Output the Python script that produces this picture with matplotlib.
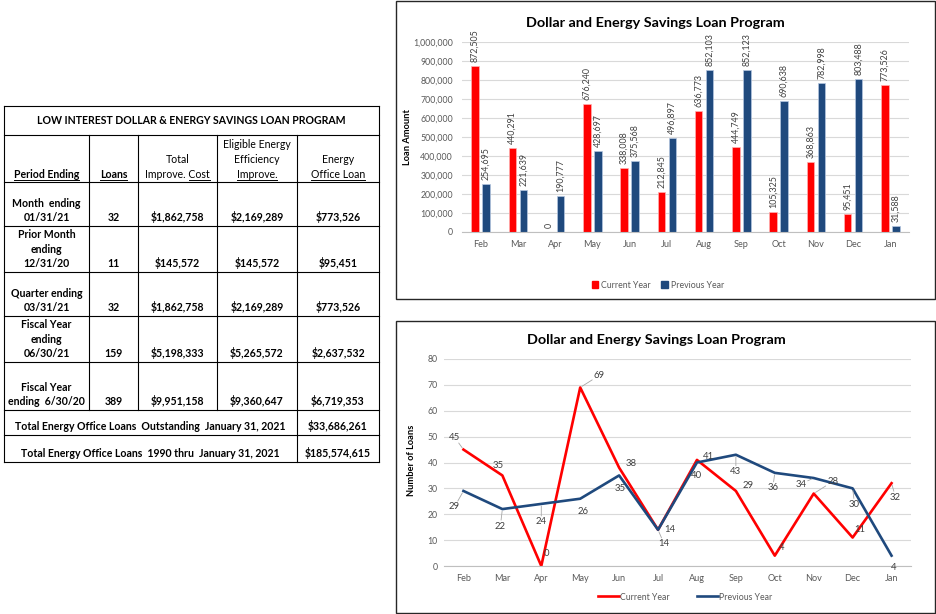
import numpy as np
import matplotlib.pyplot as plt
from matplotlib.patches import Rectangle

plt.rcParams['font.family'] = ['Lato', 'DejaVu Sans']

# chart data
months = ['Feb', 'Mar', 'Apr', 'May', 'Jun', 'Jul', 'Aug', 'Sep', 'Oct', 'Nov', 'Dec', 'Jan']
amount_current = [872505, 440291, 0, 676240, 338008, 212845, 636773, 444749, 105325, 368863, 95451, 773526]
amount_previous = [254695, 221639, 190777, 428697, 375568, 496897, 852103, 852123, 690638, 782998, 803488, 31588]
loans_current = [45, 35, 0, 69, 38, 14, 41, 29, 4, 28, 11, 32]
loans_previous = [29, 22, 24, 26, 35, 14, 40, 43, 36, 34, 30, 4]

# table data
table_title = 'LOW INTEREST DOLLAR & ENERGY SAVINGS LOAN PROGRAM'
period_labels = [['Month  ending', '01/31/21'],
                 ['Prior Month', 'ending', '12/31/20'],
                 ['Quarter ending', '03/31/21'],
                 ['Fiscal Year', 'ending', '06/30/21'],
                 ['Fiscal Year', 'ending  6/30/20']]
loan_counts = ['32', '11', '32', '159', '389']
total_cost = ['$1,862,758', '$145,572', '$1,862,758', '$5,198,333', '$9,951,158']
eligible_cost = ['$2,169,289', '$145,572', '$2,169,289', '$5,265,572', '$9,360,647']
office_loan = ['$773,526', '$95,451', '$773,526', '$2,637,532', '$6,719,353']
total_labels = ['Total Energy Office Loans  Outstanding  January 31, 2021',
                'Total Energy Office Loans  1990 thru  January 31, 2021']
total_values = ['$33,686,261', '$185,574,615']

RED = '#ff0000'
BLUE = '#1f497d'
GRAY = '#595959'

W, H = 936, 614
fig = plt.figure(figsize=(W / 100, H / 100), dpi=100)


def box(x0, y0, x1, y1):
    # pixel box (top-left origin) -> figure fraction rect
    return [x0 / W, 1 - y1 / H, (x1 - x0) / W, (y1 - y0) / H]


# full-figure canvas in pixel coordinates for the table and frames
canvas = fig.add_axes([0, 0, 1, 1])
canvas.set_xlim(0, W)
canvas.set_ylim(H, 0)
canvas.axis('off')

# ---------------- table ----------------
row_y = [106, 135, 182, 226, 272, 316, 362, 410, 435, 462]
col_x = [4, 89, 138, 217, 297, 379]
col_c = [(col_x[i] + col_x[i + 1]) / 2 for i in range(5)]
lc = dict(color='black', lw=0.8)
for y in row_y:
    canvas.plot([col_x[0], col_x[-1]], [y, y], **lc)
canvas.plot([col_x[0]] * 2, [row_y[0], row_y[-1]], **lc)
canvas.plot([col_x[-1]] * 2, [row_y[0], row_y[-1]], **lc)
for x in col_x[1:4]:
    canvas.plot([x, x], [row_y[1], row_y[7]], **lc)
canvas.plot([col_x[4]] * 2, [row_y[1], row_y[-1]], **lc)

FS = 7.6
underlines = []


def cell(x, yc, s, bold=True, ul=None):
    t = canvas.text(x, yc + 3.8, s, ha='center', va='baseline', fontsize=FS,
                    fontweight='bold' if bold else 'normal', color='black')
    if ul is not None:
        underlines.append((t, ul, yc + 3.8))
    return t


cell((col_x[0] + col_x[-1]) / 2, 120, table_title)

hb = row_y[2] - 8
cell(col_c[0], hb, 'Period Ending', ul='all')
cell(col_c[1], hb, 'Loans', ul='all')
cell(col_c[2], hb - 15, 'Total', bold=False)
cell(col_c[2], hb, 'Improve. Cost', bold=False, ul='Cost')
cell(col_c[3], hb - 30, 'Eligible Energy', bold=False)
cell(col_c[3], hb - 15, 'Efficiency', bold=False)
cell(col_c[3], hb, 'Improve.', bold=False, ul='all')
cell(col_c[4], hb - 15, 'Energy', bold=False)
cell(col_c[4], hb, 'Office Loan', bold=False, ul='all')

for i in range(5):
    yc = row_y[i + 3] - 8.5
    lines = period_labels[i]
    for k, s in enumerate(lines):
        cell(col_c[0], yc - 14.5 * (len(lines) - 1 - k), s)
    cell(col_c[1], yc, loan_counts[i])
    cell(col_c[2], yc, total_cost[i])
    cell(col_c[3], yc, eligible_cost[i])
    cell(col_c[4], yc, office_loan[i])

for i in range(2):
    yc = row_y[i + 8] - 8.5
    cell((col_x[0] + col_x[4]) / 2, yc, total_labels[i])
    cell(col_c[4], yc, total_values[i])

# ---------------- frames ----------------
for (x0, y0, x1, y1) in [(396, 1, 935, 299), (396, 321, 935, 613)]:
    canvas.add_patch(Rectangle((x0, y0), x1 - x0, y1 - y0, fill=False,
                               ec='#262626', lw=1.0))

x = np.arange(len(months))


def style_axes(ax, ypad):
    for s in ['left', 'right', 'top']:
        ax.spines[s].set_visible(False)
    ax.spines['bottom'].set_color('#bfbfbf')
    ax.grid(axis='y', color='#d9d9d9', lw=0.8)
    ax.set_axisbelow(True)
    ax.tick_params(length=0, labelsize=6.3, colors=GRAY)
    ax.tick_params(axis='y', pad=ypad)
    ax.tick_params(axis='x', pad=6, labelsize=6.6)
    ax.set_xticks(x)
    ax.set_xticklabels(months)
    ax.set_xlim(-0.5, len(months) - 0.5)


# ---------------- bar chart ----------------
ax1 = fig.add_axes(box(462, 42, 909, 232))
b1 = ax1.bar(x - 0.145, amount_current, 0.2, color=RED, edgecolor='#ffb0b0', lw=0.5)
b2 = ax1.bar(x + 0.145, amount_previous, 0.2, color=BLUE, edgecolor='#b4c6e0', lw=0.5)
ax1.set_ylim(0, 1000000)
ax1.set_yticks(np.arange(0, 1000001, 100000))
ax1.yaxis.set_major_formatter(lambda v, p: f'{v:,.0f}')
style_axes(ax1, 6.5)
for bars, vals in [(b1, amount_current), (b2, amount_previous)]:
    for r, v in zip(bars, vals):
        ax1.annotate(f'{v:,}', (r.get_x() + r.get_width() / 2, v), xytext=(0, 4),
                     textcoords='offset pixels', rotation=90, ha='center', va='bottom',
                     fontsize=6.4, color='#404040')
fig.text(655 / W, 1 - 23 / H, 'Dollar and Energy Savings Loan Program', ha='center',
         va='center', fontsize=10.4, fontweight='bold')
fig.text(408 / W, 1 - 137 / H, 'Loan Amount', rotation=90, ha='center', va='center',
         fontsize=6.7, fontweight='bold')
ax1.legend([Rectangle((0, 0), 1, 1, color=RED), Rectangle((0, 0), 1, 1, color=BLUE)],
           ['Current Year', 'Previous Year'], loc='center', bbox_to_anchor=(658 / W, 1 - 285 / H),
           bbox_transform=fig.transFigure, ncol=2, frameon=False, fontsize=6.3,
           labelcolor=GRAY, handlelength=0.7, handleheight=0.7, handletextpad=0.4,
           columnspacing=1.2)

# ---------------- line chart ----------------
ax2 = fig.add_axes(box(444, 359, 911, 566))
ax2.plot(x, loans_current, color=RED, lw=1.9, label='Current Year')
ax2.plot(x, loans_previous, color=BLUE, lw=1.9, label='Previous Year')
ax2.set_ylim(0, 80)
ax2.set_yticks(np.arange(0, 81, 10))
style_axes(ax2, 4.5)

# label offsets in pixels (right, down) from each point
cur_off = [(-9, -12.5), (-4, -10), (5, -12), (19, -12), (12, -4), (12, 0),
           (12, -3), (12, -5), (7, -8), (19, -12), (7, -8), (4, 14)]
prev_off = [(-9, 16), (-2, 17), (0, 18), (3, 13), (1, 13), (6, 14),
            (0, 13), (0, 17), (-2, 15), (-13, 6), (2, 16), (2, 12)]
for vals, offs in [(loans_current, cur_off), (loans_previous, prev_off)]:
    for i, (v, (dx, dy)) in enumerate(zip(vals, offs)):
        kw = {}
        if np.hypot(dx, dy) > 14:
            kw['arrowprops'] = dict(arrowstyle='-', color='#a6a6a6', lw=0.6,
                                    shrinkA=0, shrinkB=1.5)
        ax2.annotate(str(v), (i, v), xytext=(dx, -dy), textcoords='offset pixels',
                     ha='center', va='center', fontsize=6.9, color='#404040',
                     bbox=dict(boxstyle='square,pad=0.15', fc='none', ec='none'), **kw)
fig.text(656 / W, 1 - 340 / H, 'Dollar and Energy Savings Loan Program', ha='center',
         va='center', fontsize=10.4, fontweight='bold')
fig.text(411 / W, 1 - 460 / H, 'Number of Loans', rotation=90, ha='center', va='center',
         fontsize=6.7, fontweight='bold')
ax2.legend(loc='center', bbox_to_anchor=(685 / W, 1 - 597 / H), bbox_transform=fig.transFigure,
           ncol=2, frameon=False, fontsize=6.3, labelcolor=GRAY, handlelength=2.4,
           handletextpad=0.1, columnspacing=3.2)

# underline the header texts
fig.canvas.draw()
renderer = fig.canvas.get_renderer()
for t, ul, yb in underlines:
    bb = t.get_window_extent(renderer)
    x0, x1 = bb.x0, bb.x1
    if ul != 'all':
        tmp = canvas.text(0, 0, ul, fontsize=FS, fontweight=t.get_fontweight())
        x0 = x1 - tmp.get_window_extent(renderer).width
        tmp.remove()
    canvas.plot([x0, x1], [yb + 1.8, yb + 1.8], color='black', lw=0.7)

fig.savefig('out.png', dpi=100)
